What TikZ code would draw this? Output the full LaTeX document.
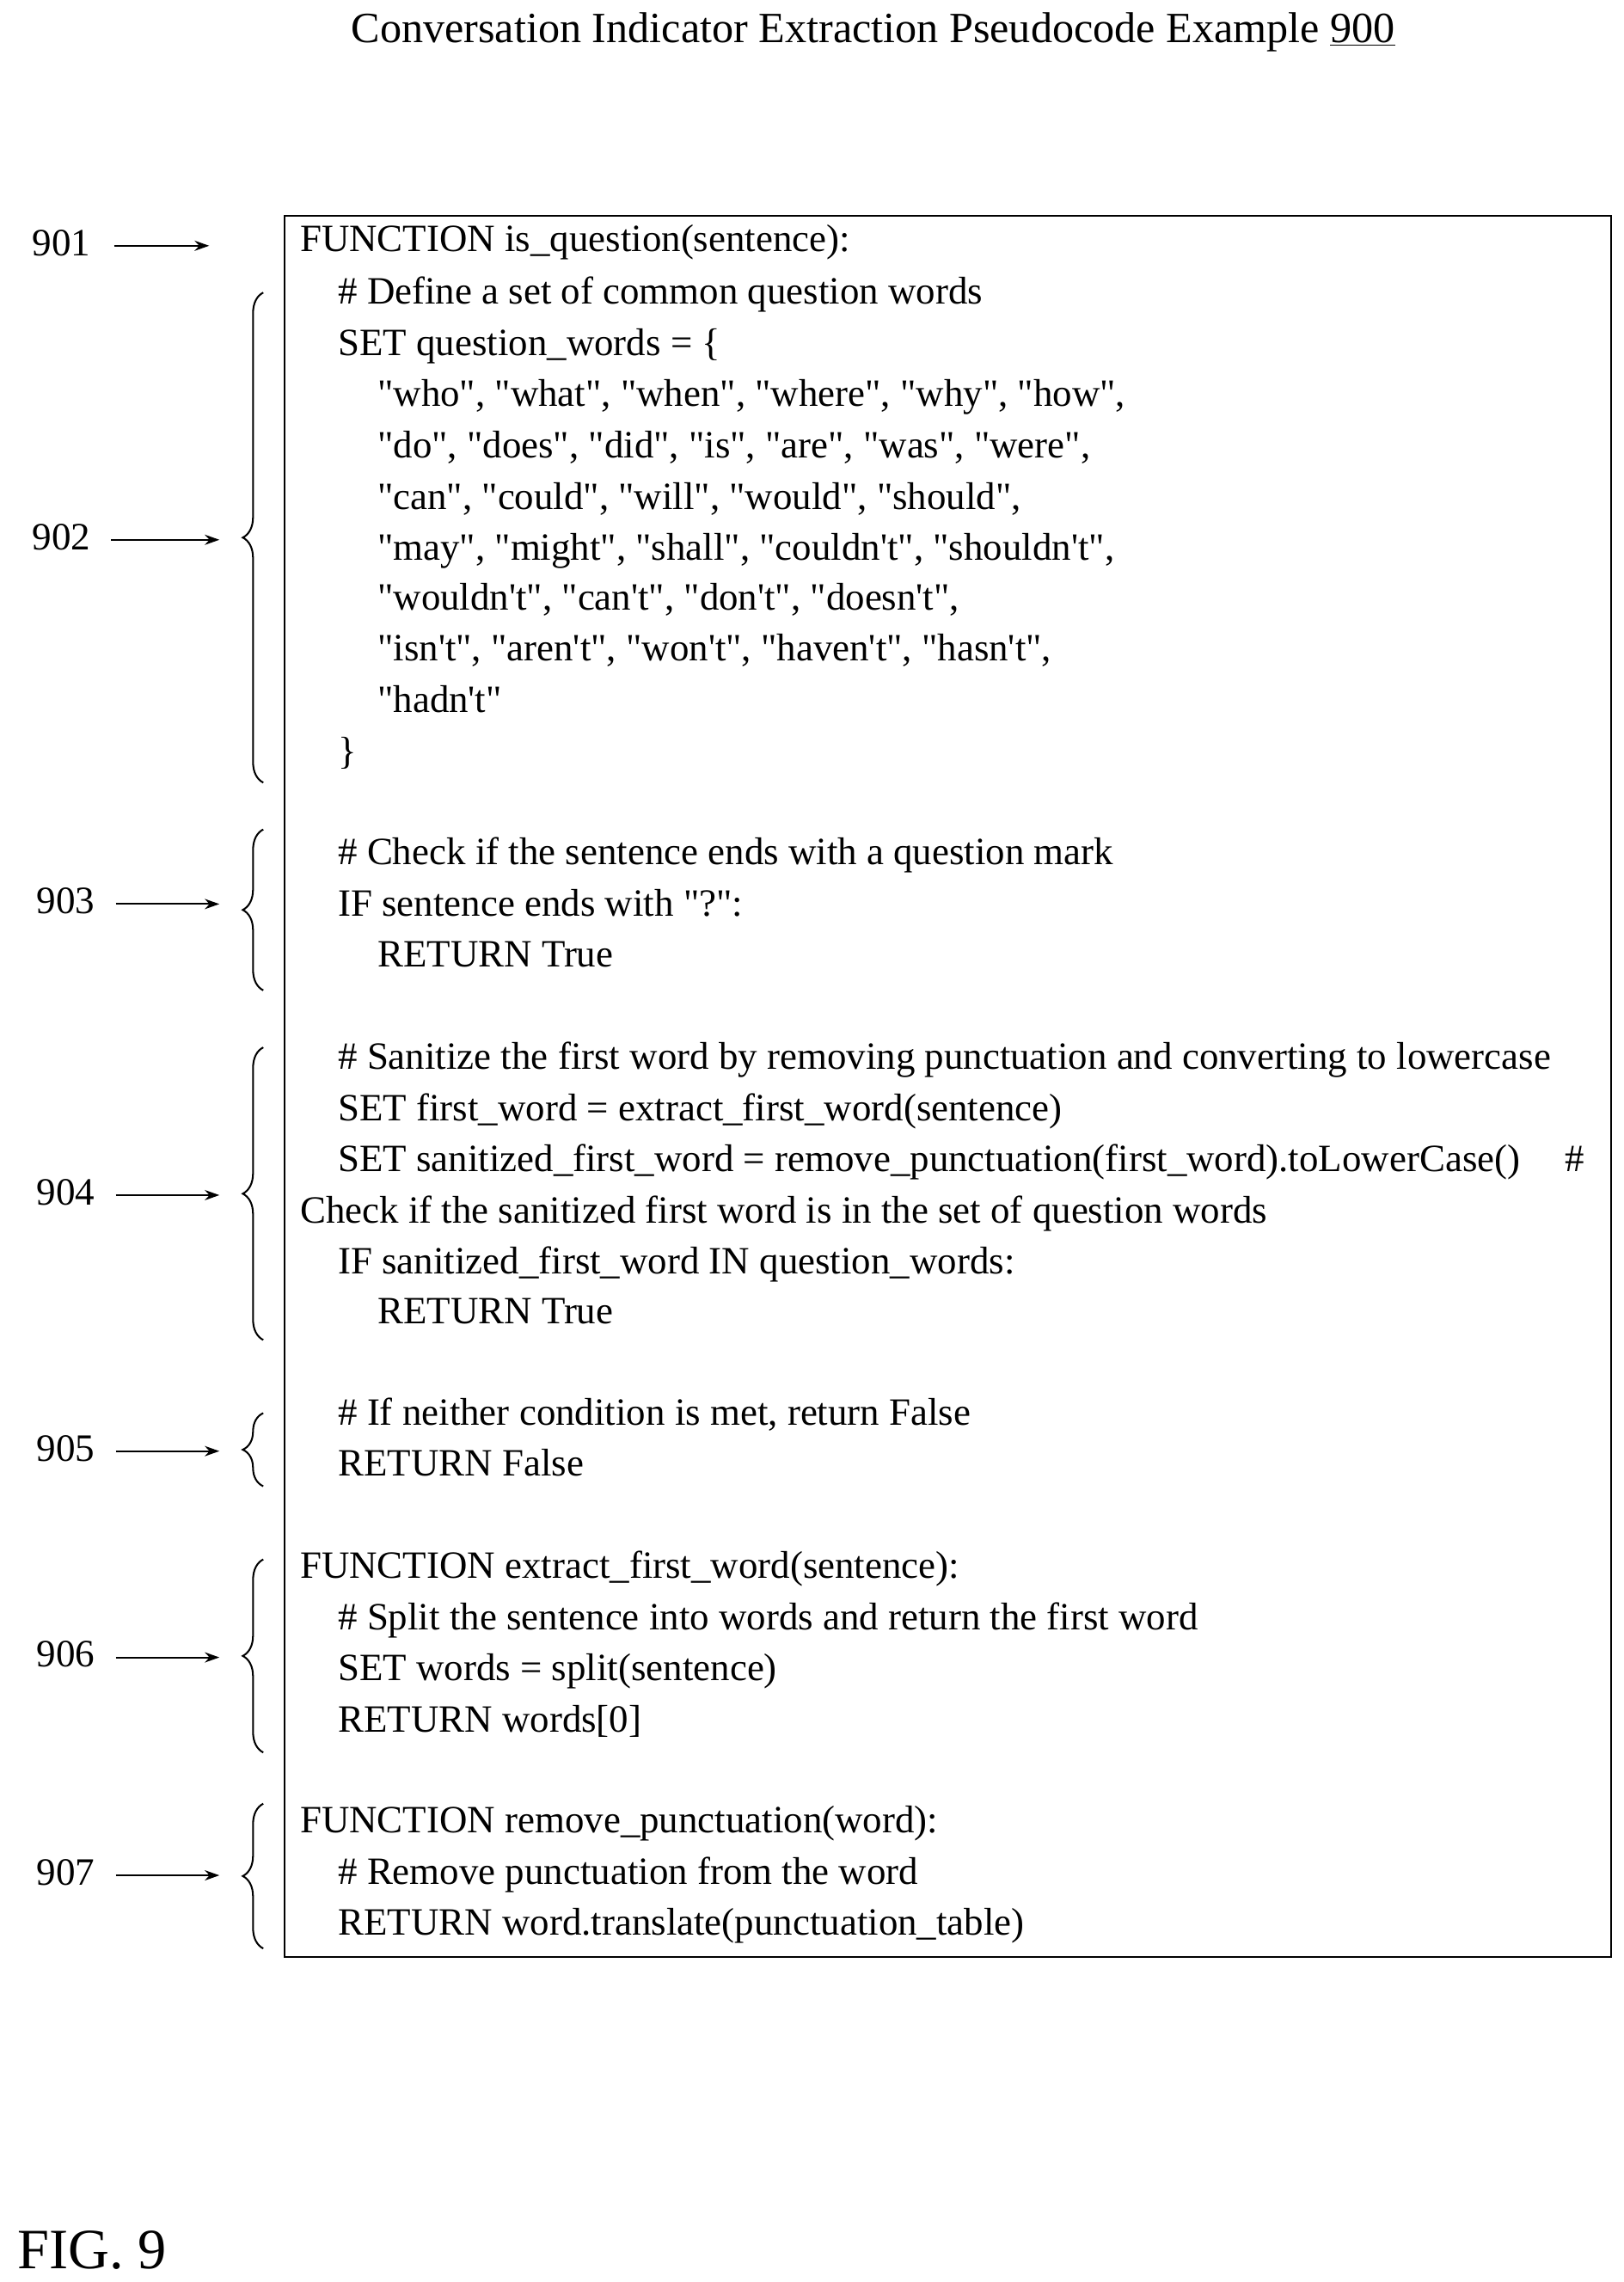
\documentclass[tikz,border=0pt]{standalone}
\usepackage{fontspec}
\newfontfamily\pc{Liberation Serif}
\usetikzlibrary{decorations.pathreplacing,arrows.meta}
\begin{document}
\begin{tikzpicture}[x=1pt,y=-1pt,
  ln/.style={anchor=base west,inner sep=0pt,font=\pc\fontsize{26.4}{30}\selectfont},
  lbl/.style={anchor=center,inner sep=0pt,font=\pc\fontsize{26.5}{30}\selectfont},
  arr/.style={-{Stealth[length=10pt,width=7pt]},line width=1.2pt},
  br/.style={decorate,decoration={brace,mirror,amplitude=14pt},line width=1.2pt}]
\useasboundingbox (0,0) rectangle (1110,1560);
\node[lbl,font=\pc\fontsize{29.5}{34}\selectfont] (title) at (597,22) {Conversation Indicator Extraction Pseudocode Example \underline{900}};
\node[draw,line width=1.2pt,minimum width=907pt,minimum height=1190pt,anchor=north west,inner sep=0pt] (box) at (194,147) {};
\def\L#1#2#3{\node[ln] at (#1,#2+4) {#3};}
\L{205}{168}{FUNCTION is\_question(sentence):}
\L{231}{204}{\# Define a set of common question words}
\L{231}{239}{SET question\_words = \{}
\L{258}{274}{"who", "what", "when", "where", "why", "how",}
\L{258}{309}{"do", "does", "did", "is", "are", "was", "were",}
\L{258}{344}{"can", "could", "will", "would", "should",}
\L{258}{379}{"may", "might", "shall", "couldn't", "shouldn't",}
\L{258}{413}{"wouldn't", "can't", "don't", "doesn't",}
\L{258}{448}{"isn't", "aren't", "won't", "haven't", "hasn't",}
\L{258}{483}{"hadn't"}
\L{231}{518}{\}}
\L{231}{587}{\# Check if the sentence ends with a question mark}
\L{231}{622}{IF sentence ends with "?":}
\L{258}{657}{RETURN True}
\L{231}{727}{\# Sanitize the first word by removing punctuation and converting to lowercase}
\L{231}{762}{SET first\_word = extract\_first\_word(sentence)}
\L{231}{797}{SET sanitized\_first\_word = remove\_punctuation(first\_word).toLowerCase()}
\L{1070}{797}{\#}
\L{205}{832}{Check if the sanitized first word is in the set of question words}
\L{231}{867}{IF sanitized\_first\_word IN question\_words:}
\L{258}{901}{RETURN True}
\L{231}{970}{\# If neither condition is met, return False}
\L{231}{1005}{RETURN False}
\L{205}{1075}{FUNCTION extract\_first\_word(sentence):}
\L{231}{1110}{\# Split the sentence into words and return the first word}
\L{231}{1145}{SET words = split(sentence)}
\L{231}{1180}{RETURN words[0]}
\L{205}{1249}{FUNCTION remove\_punctuation(word):}
\L{231}{1284}{\# Remove punctuation from the word}
\L{231}{1319}{RETURN word.translate(punctuation\_table)}
% labels
\node[lbl] (l901) at (42,166) {901};
\coordinate (t901) at (143,168);
\draw[arr] (78,168) -- (t901);
\foreach \n/\y/\a/\b/\x in {902/369/200/535/42,903/618/567/677/45,904/817/716/916/45,905/992/966/1016/45,906/1133/1066/1198/45,907/1282/1233/1332/45}{
  \node[lbl] (l\n) at (\x,\y-2) {\n};
  \coordinate (a\n) at (180,\a);
  \coordinate (b\n) at (180,\b);
  \draw[br] (a\n) -- (b\n);
  \coordinate (t\n) at (150,\y);
  \draw[arr] (l\n.east)++(14,2) -- (t\n);
}
\node[lbl,anchor=west,font=\pc\fontsize{39}{44}\selectfont] (fig) at (12,1538) {FIG. 9};
\end{tikzpicture}
\end{document}
